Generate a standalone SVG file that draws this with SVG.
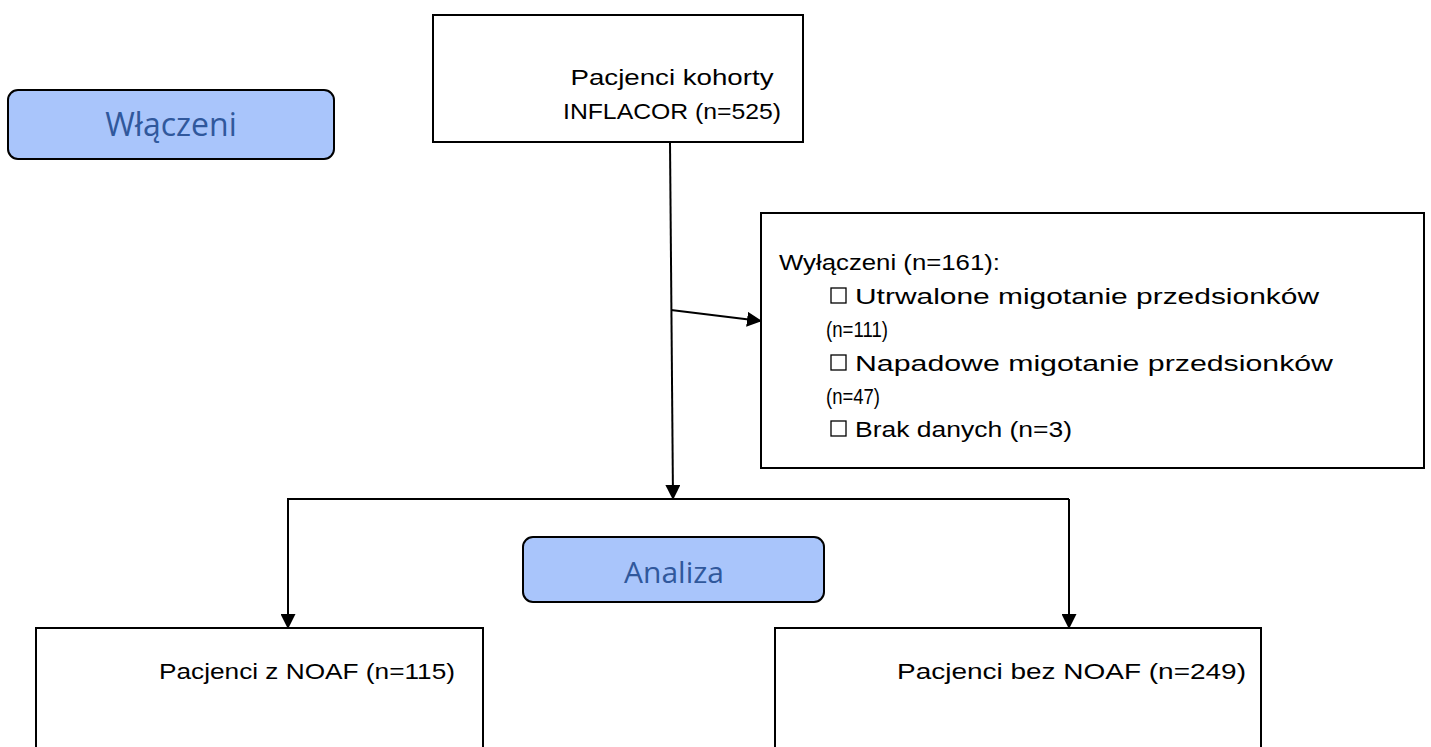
<svg xmlns="http://www.w3.org/2000/svg" width="1431" height="747" viewBox="0 0 1431 747">
  <defs>
    <marker id="arr" markerWidth="15" markerHeight="15" refX="14" refY="7.5" orient="auto" markerUnits="userSpaceOnUse">
      <path d="M0,0 L15,7.5 L0,15 Z" fill="#000"/>
    </marker>
    <style>
      .box { fill: #fff; stroke: #000; stroke-width: 2; }
      .tag { fill: #a9c5fb; stroke: #000; stroke-width: 2; }
      .tagtxt { font-family: "Open Sans", "Noto Sans", sans-serif; fill: #30589c; text-anchor: middle; }
      .txt { font-family: "Liberation Sans", Arial, sans-serif; font-size: 22px; fill: #000; }
      .ctr { text-anchor: middle; }
      .line { stroke: #000; stroke-width: 2; fill: none; }
      .chk { fill: #fff; stroke: #000; stroke-width: 1.3; }
    </style>
  </defs>

  <g id="wlaczeni">
    <rect class="tag" x="8" y="90" width="326" height="69" rx="10"/>
    <text class="tagtxt" x="171" y="136" font-size="32">Włączeni</text>
  </g>

  <g id="kohorta">
    <rect class="box" x="433" y="15" width="370" height="127"/>
    <text class="txt ctr" x="672" y="85" textLength="203" lengthAdjust="spacingAndGlyphs">Pacjenci kohorty</text>
    <text class="txt ctr" x="672" y="119" textLength="218" lengthAdjust="spacingAndGlyphs">INFLACOR (n=525)</text>
  </g>

  <g id="wylaczeni">
    <rect class="box" x="761" y="213" width="663" height="255"/>
    <text class="txt" x="779" y="270" textLength="221" lengthAdjust="spacingAndGlyphs">Wyłączeni  (n=161):</text>
    <rect class="chk" x="831" y="288" width="15" height="15"/>
    <text class="txt" x="855" y="304" textLength="464" lengthAdjust="spacingAndGlyphs">Utrwalone migotanie przedsionków</text>
    <text class="txt" x="826" y="337" textLength="62" lengthAdjust="spacingAndGlyphs">(n=111)</text>
    <rect class="chk" x="831" y="355" width="15" height="15"/>
    <text class="txt" x="855" y="371" textLength="478" lengthAdjust="spacingAndGlyphs">Napadowe migotanie przedsionków</text>
    <text class="txt" x="826" y="404" textLength="54" lengthAdjust="spacingAndGlyphs">(n=47)</text>
    <rect class="chk" x="831" y="421" width="15" height="15"/>
    <text class="txt" x="855" y="437" textLength="217" lengthAdjust="spacingAndGlyphs">Brak danych (n=3)</text>
  </g>

  <g id="analiza">
    <rect class="tag" x="523" y="537" width="301" height="65" rx="10"/>
    <text class="tagtxt" x="674" y="583" font-size="30">Analiza</text>
  </g>

  <g id="noaf">
    <rect class="box" x="36" y="628" width="447" height="140"/>
    <text class="txt" x="159" y="679" textLength="296" lengthAdjust="spacingAndGlyphs">Pacjenci z NOAF  (n=115)</text>
  </g>

  <g id="bez-noaf">
    <rect class="box" x="775" y="628" width="486" height="140"/>
    <text class="txt" x="897" y="679" textLength="349" lengthAdjust="spacingAndGlyphs">Pacjenci bez NOAF (n=249)</text>
  </g>

  <g id="connectors">
    <line class="line" x1="670" y1="142" x2="673" y2="499" marker-end="url(#arr)"/>
    <line class="line" x1="671" y1="310" x2="761" y2="321" marker-end="url(#arr)"/>
    <line class="line" x1="287" y1="499" x2="1069" y2="499"/>
    <line class="line" x1="288" y1="499" x2="288" y2="628" marker-end="url(#arr)"/>
    <line class="line" x1="1069" y1="499" x2="1069" y2="628" marker-end="url(#arr)"/>
  </g>
</svg>
